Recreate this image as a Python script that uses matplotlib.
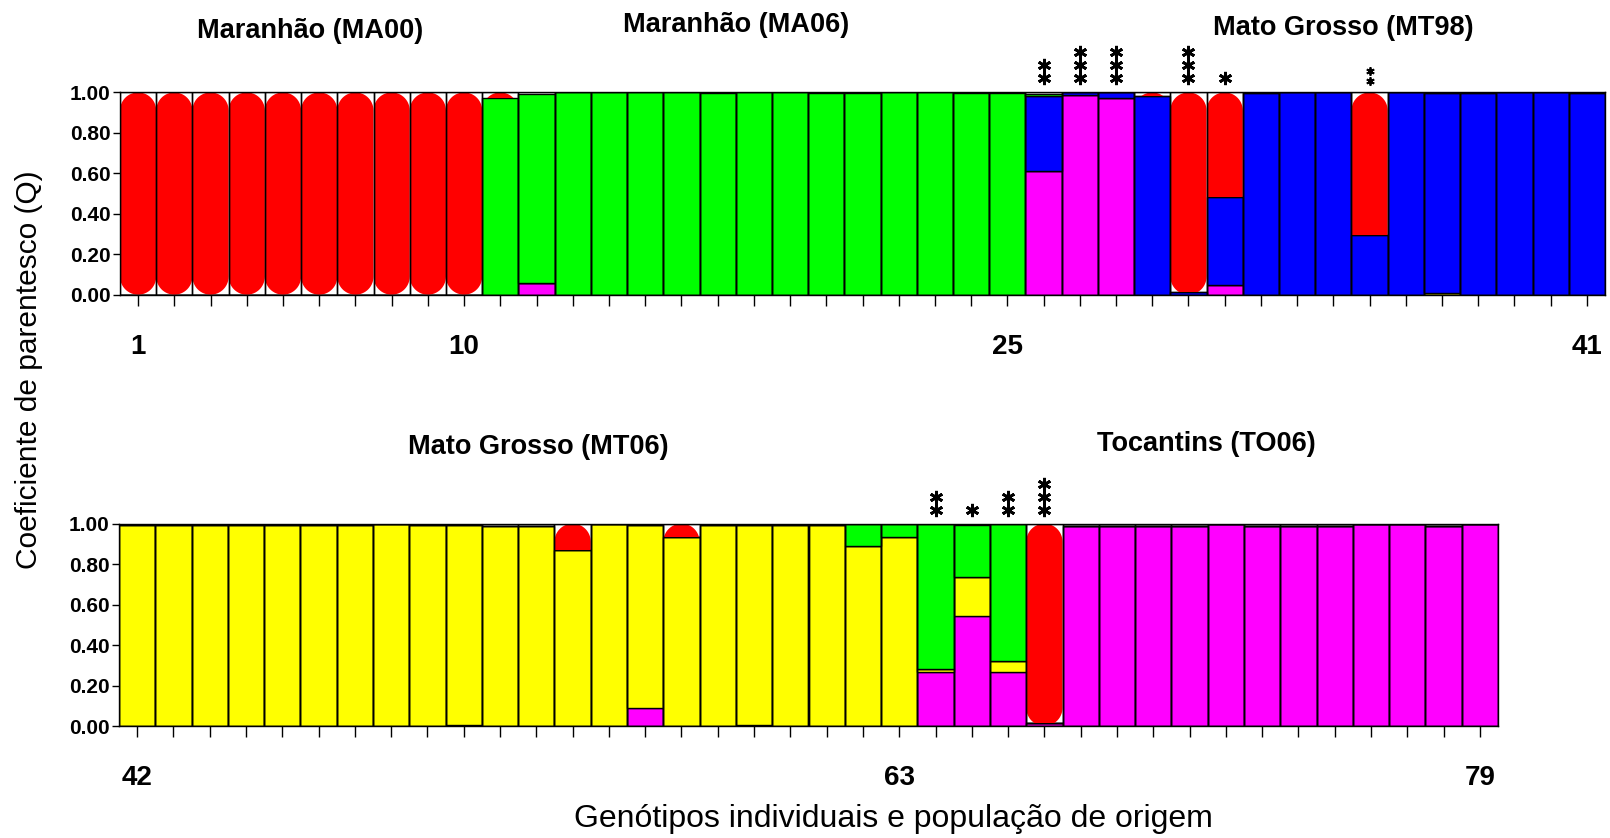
import numpy as np
import matplotlib
matplotlib.use('Agg')
import matplotlib.pyplot as plt
from matplotlib.path import Path
from matplotlib.patches import PathPatch

plt.rcParams['font.family'] = ['Liberation Sans', 'DejaVu Sans']

# ---- data: ancestry coefficients (Q) for 79 individuals, 5 clusters ----
# stacked from bottom to top: magenta, yellow, blue, green, red
individuals = list(range(1, 80))

q_magenta = [0]*10 + [0, 0.06] + [0]*13 + [0.61, 0.987, 0.972, 0, 0, 0.046] + [0]*10 \
    + [0]*9 + [0.005, 0, 0, 0, 0, 0.088, 0, 0, 0.005, 0, 0, 0, 0, 0.265, 0.544, 0.266, 0.017] \
    + [0.99, 0.99, 0.99, 0.99, 1.0, 0.99, 0.99, 0.99, 1.0, 1.0, 0.99, 0.996]
q_yellow = [0]*36 + [0.008, 0, 0, 0, 0] \
    + [0.992, 0.992, 0.992, 0.992, 0.992, 0.992, 0.992, 1.0, 0.992, 0.988, 0.99, 0.99,
       0.872, 1.0, 0.905, 0.935, 0.992, 0.987, 0.992, 0.992, 0.888, 0.934,
       0.015, 0.193, 0.056, 0] + [0]*12
q_blue = [0]*25 + [0.37, 0.013, 0.028, 0.98, 0.013, 0.437, 0.995, 1.0, 1.0, 0.294, 1.0,
                   0.987, 0.995, 1.0, 1.0, 0.995] \
    + [0]*37 + [0.004]
q_green = [0]*10 + [0.97, 0.932, 1.0, 1.0, 1.0, 1.0, 0.995, 1.0, 1.0, 0.995, 0.995, 1.0, 1.0,
                    0.995, 0.995, 0.013] + [0]*15 \
    + [0]*20 + [0.112, 0.066, 0.72, 0.255, 0.678, 0] + [0]*12
q_red = [1.0]*10 + [0.03] + [0]*17 + [0.02, 0.987, 0.517, 0, 0, 0, 0.706] + [0]*6 \
    + [0]*12 + [0.128, 0, 0, 0.065] + [0]*9 + [0.983] + [0]*12

cluster_q = [q_magenta, q_yellow, q_blue, q_green, q_red]
cluster_colors = ['#ff00ff', '#ffff00', '#0000ff', '#00ff00', '#ff0000']

# significance marks above some individuals
star_ids = [26, 27, 28, 30, 31, 35, 64, 65, 66, 67]
star_counts = [2, 3, 3, 3, 1, 2, 2, 1, 2, 3]

labeled_ids = [1, 10, 25, 41, 42, 63, 79]

pop_names = ['Maranhão (MA00)', 'Maranhão (MA06)', 'Mato Grosso (MT98)',
             'Mato Grosso (MT06)', 'Tocantins (TO06)']

yticks = [0.0, 0.2, 0.4, 0.6, 0.8, 1.0]

# ---- figure ----
W, H = 1610, 838
fig = plt.figure(figsize=(W / 100, H / 100), dpi=100)


def draw_panel(box, first, last):
    l, t, r, b = box
    ax = fig.add_axes([l / W, 1 - b / H, (r - l) / W, (b - t) / H])
    ids = np.arange(first, last + 1)
    n = len(ids)
    ax_w, ax_h = r - l, b - t
    # corner radius of the red "pill" shapes, in data units
    ry = (ax_w / n / 2) / ax_h

    bottom = np.zeros(n)
    for q, col in zip(cluster_q, cluster_colors):
        vals = np.array(q)[ids - 1]
        if col == '#ff0000':
            bars = ax.bar(ids, vals, width=1.0, bottom=bottom, color=col,
                          linewidth=0, zorder=2)
            for x, patch in zip(ids, bars.patches):
                th = np.linspace(0, np.pi, 30)
                top = np.column_stack([x + 0.5 * np.cos(th), 1 - ry + ry * np.sin(th)])
                bot = np.column_stack([x - 0.5 * np.cos(th), ry - ry * np.sin(th)])
                verts = np.vstack([top, bot, top[:1]])
                clip = PathPatch(Path(verts), transform=ax.transData)
                patch.set_clip_path(clip)
        else:
            ax.bar(ids, vals, width=1.0, bottom=bottom, color=col,
                   edgecolor='black', linewidth=1.0, zorder=2)
        bottom += vals

    # cell outlines
    ax.bar(ids, np.ones(n), width=1.0, fill=False, edgecolor='black',
           linewidth=1.0, zorder=3)

    ax.set_xlim(first - 0.5, last + 0.5)
    ax.set_ylim(0, 1)
    ax.set_yticks(yticks)
    ax.set_yticklabels([f'{v:.2f}' for v in yticks], fontsize=15, fontweight='bold')
    ax.set_xticks(ids)
    ax.set_xticklabels([str(i) if i in labeled_ids else '' for i in ids],
                       fontsize=20, fontweight='bold')
    ax.tick_params(axis='y', length=5, width=1, pad=2)
    ax.tick_params(axis='x', length=8, width=1, pad=20)
    for s in ax.spines.values():
        s.set_linewidth(1.0)
        s.set_zorder(4)

    # asterisks
    for sid, cnt in zip(star_ids, star_counts):
        if first <= sid <= last:
            small = sid == 35
            off0, step = (11, 10) if small else (14, 13)
            for k in range(cnt):
                y = 1 + (off0 + k * step) / ax_h
                ax.plot(sid, y, marker=(6, 2, 0), ms=6 if small else 9.5,
                        mew=1.3 if small else 2.0, color='black', clip_on=False)
    return ax


ax_top = draw_panel((120, 92.4, 1605, 294.7), 1, 41)
ax_bot = draw_panel((119, 523.6, 1498, 726), 42, 79)

# population titles (figure pixel positions)
title_pos = [(310, 31), (736, 25), (1343, 28), (538, 447), (1206, 444)]
for name, (px, py) in zip(pop_names, title_pos):
    fig.text(px / W, 1 - py / H, name, ha='center', va='center',
             fontsize=19.5, fontweight='bold')

fig.text(29 / W, 1 - 370 / H, 'Coeficiente de parentesco (Q)', rotation=90,
         ha='center', va='center', fontsize=21.5)
fig.text(893 / W, 1 - 819 / H, 'Genótipos individuais e população de origem',
         ha='center', va='center', fontsize=23)

fig.savefig('out.png', dpi=100, facecolor='white')
